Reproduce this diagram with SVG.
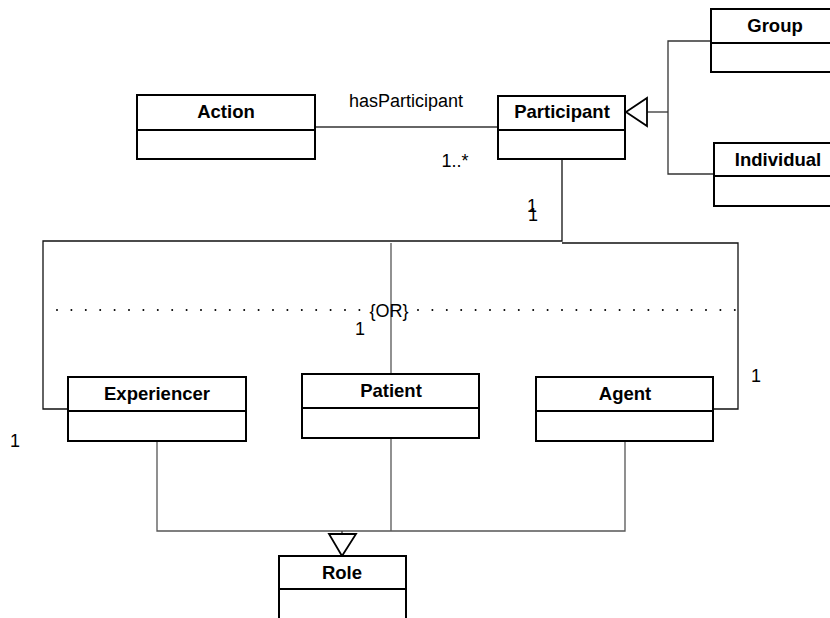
<svg xmlns="http://www.w3.org/2000/svg" width="830" height="618" viewBox="0 0 830 618">
  <style>
    .box { fill: #ffffff; stroke: #000000; stroke-width: 2; }
    .div { stroke: #000000; stroke-width: 2; }
    .name { font-family: "Liberation Sans", Arial, sans-serif; font-size: 18.5px; font-weight: bold; text-anchor: middle; fill: #000000; }
    .lbl { font-family: "Liberation Sans", Arial, sans-serif; font-size: 18px; fill: #000000; }
    .con { fill: none; stroke: #333333; stroke-width: 1.3; }
    .gen { fill: #ffffff; stroke: #000000; stroke-width: 1.8; }
    .or { fill: none; stroke: #000000; stroke-width: 2; stroke-linecap: round; stroke-dasharray: 0 14.4; }
  </style>
  <rect width="830" height="618" fill="#ffffff"/>

  <g id="connectors">
    <!-- association Action - Participant -->
    <line class="con" x1="315" y1="127" x2="498" y2="127"/>
    <!-- generalization Group / Individual -> Participant -->
    <polyline class="con" points="711,41 668,41 668,174 714,174"/>
    <line class="con" x1="647" y1="112" x2="668" y2="112"/>
    <polygon class="gen" points="626,112 647,98 647,126"/>
    <!-- Participant to role classes -->
    <polyline class="con" points="562,159 562,241 43,241 43,409 68,409" style="stroke:#111;"/>
    <polyline class="con" points="562,243 738,243 738,409 713,409" style="stroke:#111;"/>
    <line class="con" x1="391" y1="243" x2="391" y2="373" style="stroke:#555;"/>
    <!-- {OR} constraint -->
    <line class="or" x1="57" y1="310" x2="362" y2="310"/>
    <line class="or" x1="418" y1="310" x2="737" y2="310"/>
    <!-- generalization role classes -> Role -->
    <polyline class="con" points="157,441 157,531 625,531 625,441" style="stroke:#555;"/>
    <line class="con" x1="391" y1="438" x2="391" y2="531" style="stroke:#555;"/>
    <line class="con" x1="342" y1="531" x2="342" y2="534"/>
    <polygon class="gen" points="329,534 356,534 342,556"/>
  </g>

  <g id="labels">
    <text class="lbl" x="406" y="107" text-anchor="middle">hasParticipant</text>
    <text class="lbl" x="455" y="167" text-anchor="middle">1..*</text>
    <text class="lbl" x="532" y="212" text-anchor="middle">1</text>
    <text class="lbl" x="533" y="221" text-anchor="middle">1</text>
    <text class="lbl" x="389" y="317" text-anchor="middle">{OR}</text>
    <text class="lbl" x="360" y="335" text-anchor="middle">1</text>
    <text class="lbl" x="756" y="382" text-anchor="middle">1</text>
    <text class="lbl" x="15" y="447" text-anchor="middle">1</text>
  </g>

  <g id="Action">
    <rect class="box" x="137" y="95" width="178" height="64"/>
    <line class="div" x1="137" y1="130" x2="315" y2="130"/>
    <text class="name" x="226" y="118">Action</text>
  </g>

  <g id="Participant">
    <rect class="box" x="498" y="96" width="127" height="63"/>
    <line class="div" x1="498" y1="130" x2="625" y2="130"/>
    <text class="name" x="562" y="118">Participant</text>
  </g>

  <g id="Group">
    <rect class="box" x="711" y="9" width="130" height="63"/>
    <line class="div" x1="711" y1="43" x2="841" y2="43"/>
    <text class="name" x="775" y="32">Group</text>
  </g>

  <g id="Individual">
    <rect class="box" x="714" y="143" width="128" height="63"/>
    <line class="div" x1="714" y1="176" x2="842" y2="176"/>
    <text class="name" x="778" y="166">Individual</text>
  </g>

  <g id="Experiencer">
    <rect class="box" x="68" y="377" width="178" height="64"/>
    <line class="div" x1="68" y1="411" x2="246" y2="411"/>
    <text class="name" x="157" y="400">Experiencer</text>
  </g>

  <g id="Patient">
    <rect class="box" x="302" y="374" width="177" height="64"/>
    <line class="div" x1="302" y1="408" x2="479" y2="408"/>
    <text class="name" x="391" y="397">Patient</text>
  </g>

  <g id="Agent">
    <rect class="box" x="536" y="377" width="177" height="64"/>
    <line class="div" x1="536" y1="411" x2="713" y2="411"/>
    <text class="name" x="625" y="400">Agent</text>
  </g>

  <g id="Role">
    <rect class="box" x="279" y="556" width="127" height="70"/>
    <line class="div" x1="279" y1="589" x2="406" y2="589"/>
    <text class="name" x="342" y="579">Role</text>
  </g>
</svg>
